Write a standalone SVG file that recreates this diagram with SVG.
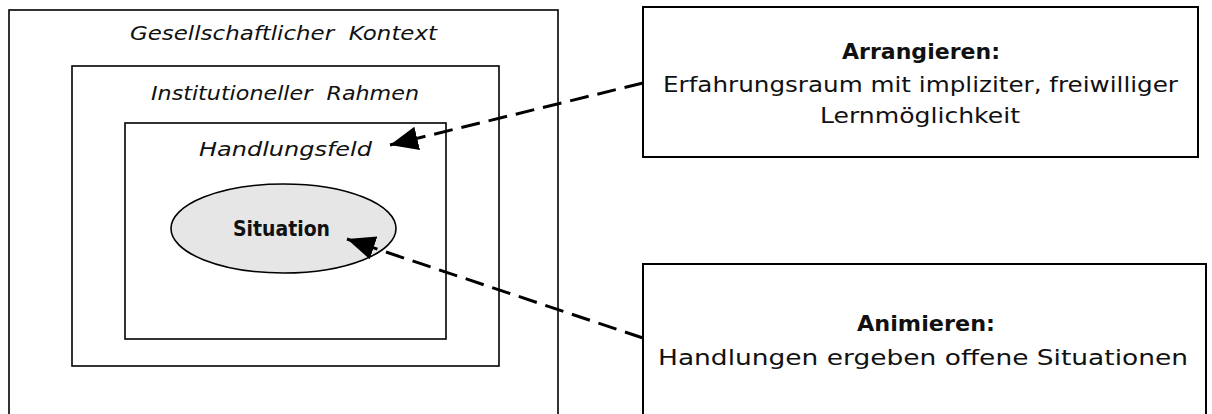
<svg xmlns="http://www.w3.org/2000/svg" width="1212" height="414" viewBox="0 0 1212 414">
  <style>
    .frame { fill: none; stroke: #000; stroke-width: 1.6; }
    .box { fill: #fff; stroke: #000; stroke-width: 2; }
    .lbl { font-family: "DejaVu Sans", "Liberation Sans", sans-serif; font-style: italic; font-size: 20px; fill: #111; white-space: pre; }
    .txt { font-family: "DejaVu Sans", "Liberation Sans", sans-serif; font-size: 22px; fill: #111; }
    .bold { font-weight: bold; }
    .link { fill: none; stroke: #000; stroke-width: 3; stroke-dasharray: 19 9; }
  </style>
  <defs>
    <marker id="head" markerUnits="userSpaceOnUse" markerWidth="30" markerHeight="26" refX="28" refY="12" orient="auto">
      <polygon points="0,0 28,12 0,24" fill="#000"/>
    </marker>
  </defs>

  <rect width="1212" height="414" fill="#fff"/>

  <g id="kontext">
    <rect class="frame" x="9" y="10" width="549" height="420"/>
    <text class="lbl" x="283.5" y="40" text-anchor="middle" textLength="307" lengthAdjust="spacingAndGlyphs">Gesellschaftlicher  Kontext</text>
  </g>

  <g id="rahmen">
    <rect class="frame" x="72" y="66" width="427" height="300"/>
    <text class="lbl" x="285" y="100" text-anchor="middle" textLength="268" lengthAdjust="spacingAndGlyphs">Institutioneller  Rahmen</text>
  </g>

  <g id="handlungsfeld">
    <rect class="frame" x="125" y="123" width="321" height="216"/>
    <text class="lbl" x="285.5" y="156" text-anchor="middle" textLength="173" lengthAdjust="spacingAndGlyphs">Handlungsfeld</text>
  </g>

  <g id="situation">
    <ellipse cx="283.5" cy="228.5" rx="112.5" ry="44.5" fill="#e6e6e6" stroke="#000" stroke-width="1.6"/>
    <text class="txt bold" x="281.5" y="236" text-anchor="middle" font-size="20" textLength="97" lengthAdjust="spacingAndGlyphs">Situation</text>
  </g>

  <g id="arrangieren">
    <rect class="box" x="643" y="7" width="555" height="150"/>
    <text class="txt bold" x="921" y="59" text-anchor="middle" textLength="158" lengthAdjust="spacingAndGlyphs">Arrangieren:</text>
    <text class="txt" x="920.5" y="92" text-anchor="middle" textLength="515" lengthAdjust="spacingAndGlyphs">Erfahrungsraum mit impliziter, freiwilliger</text>
    <text class="txt" x="920" y="123" text-anchor="middle" textLength="200" lengthAdjust="spacingAndGlyphs">Lernmöglichkeit</text>
  </g>

  <g id="animieren">
    <rect class="box" x="643" y="264" width="563" height="170"/>
    <text class="txt bold" x="926" y="331" text-anchor="middle" textLength="138" lengthAdjust="spacingAndGlyphs">Animieren:</text>
    <text class="txt" x="923" y="365" text-anchor="middle" textLength="530" lengthAdjust="spacingAndGlyphs">Handlungen ergeben offene Situationen</text>
  </g>

  <g id="connectors">
    <line class="link" x1="643" y1="83" x2="390" y2="145" marker-end="url(#head)"/>
    <line class="link" x1="643" y1="338" x2="347" y2="239" marker-end="url(#head)"/>
  </g>
</svg>
